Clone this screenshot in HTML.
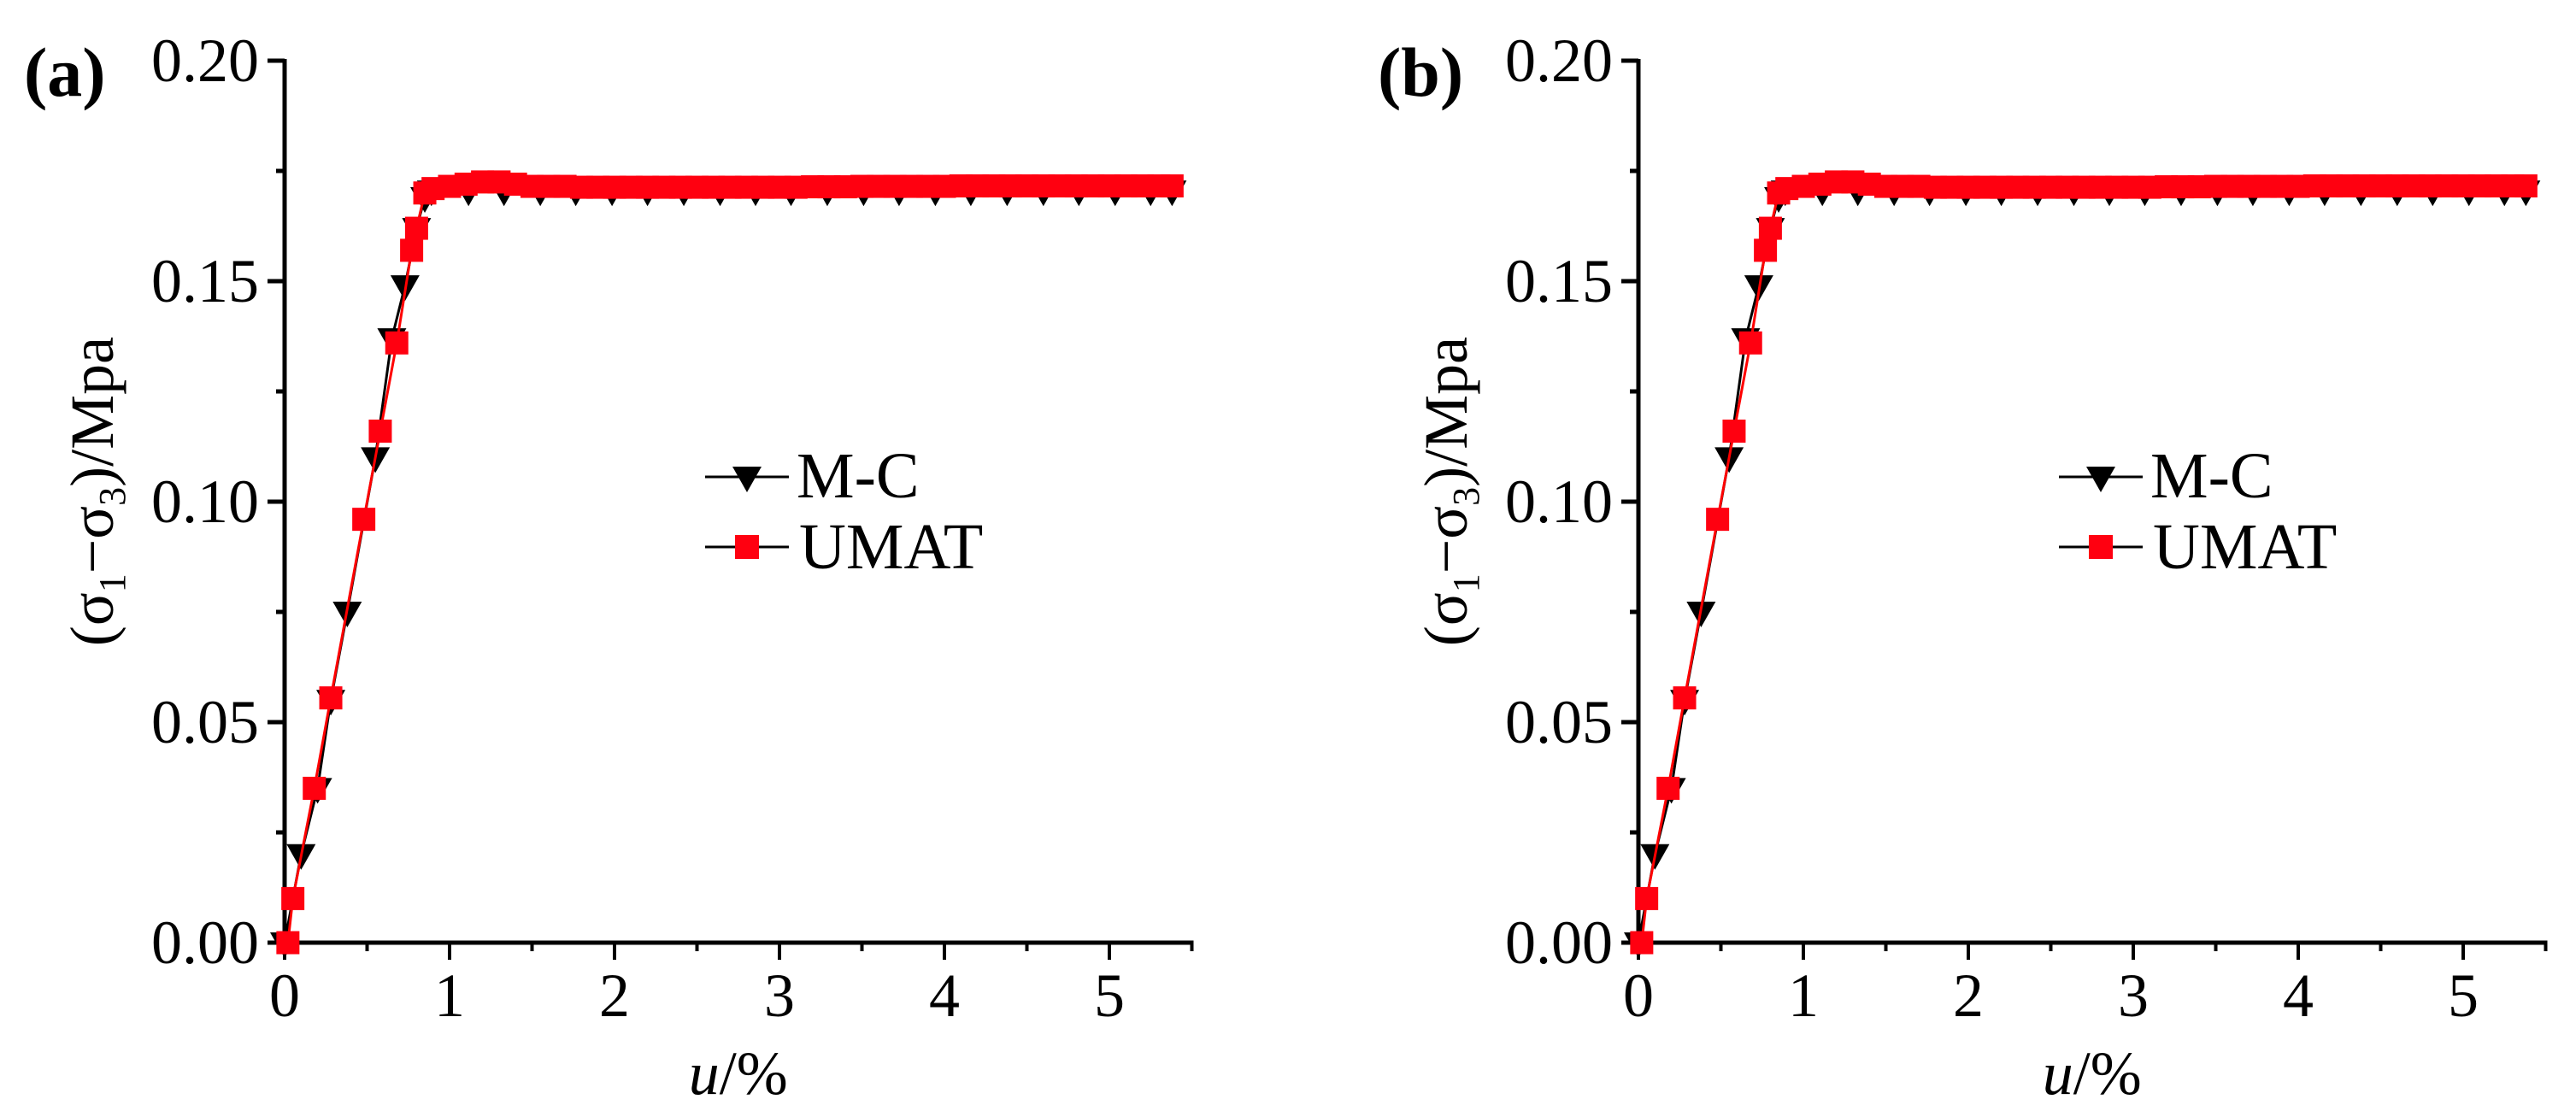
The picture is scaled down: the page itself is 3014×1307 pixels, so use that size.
<!DOCTYPE html>
<html><head><meta charset="utf-8"><style>
html,body{margin:0;padding:0;background:#fff;}
svg{display:block;font-family:"Liberation Serif",serif;}
</style></head><body>
<svg id="chart" width="3014" height="1307" viewBox="0 0 3014 1307" xmlns="http://www.w3.org/2000/svg"></svg>
<script>
const xTicks=[0,1,2,3,4,5];
const yTicks=[0.00,0.05,0.10,0.15,0.20];
const yTickLabels=["0.00","0.05","0.10","0.15","0.20"];
const panelLabels=["(a)","(b)"];
const mcX=[0.0,0.1,0.2,0.28,0.38,0.55,0.65,0.73,0.8,0.85,0.89,1.115,1.33,1.55,1.765,1.985,2.2,2.42,2.64,2.855,3.07,3.29,3.51,3.725,3.945,4.16,4.38,4.6,4.815,5.035,5.25,5.38];
const mcY=[0.0,0.02,0.035,0.055,0.075,0.11,0.137,0.149,0.162,0.169,0.1705,0.1705,0.1705,0.1705,0.1705,0.1705,0.1705,0.1705,0.1705,0.1705,0.1705,0.1705,0.1705,0.1705,0.1705,0.1705,0.1705,0.1705,0.1705,0.1705,0.1705,0.1705];
const umX=[0.02,0.05,0.18,0.28,0.48,0.58,0.68,0.77,0.8,0.85,0.9,1.0,1.1,1.2,1.3,1.4,1.5,1.6,1.7,1.8,1.9,2.0,2.1,2.2,2.3,2.4,2.5,2.6,2.7,2.8,2.9,3.0,3.1,3.2,3.3,3.4,3.5,3.6,3.7,3.8,3.9,4.0,4.1,4.2,4.3,4.4,4.5,4.6,4.7,4.8,4.9,5.0,5.1,5.2,5.3,5.38];
const umY=[0.0,0.01,0.035,0.0555,0.096,0.116,0.136,0.157,0.162,0.170,0.171,0.1715,0.172,0.1725,0.1725,0.172,0.1715,0.1715,0.1715,0.1713,0.1713,0.1713,0.1713,0.1713,0.1713,0.1713,0.1713,0.1713,0.1713,0.1713,0.1713,0.1713,0.1713,0.1714,0.1714,0.1714,0.1715,0.1715,0.1715,0.1715,0.1715,0.1715,0.1716,0.1716,0.1716,0.1716,0.1716,0.1716,0.1716,0.1716,0.1716,0.1716,0.1716,0.1716,0.1716,0.1716];

const svg=document.getElementById('chart');
const NS='http://www.w3.org/2000/svg';
function mk(tag,attrs,parent){const e=document.createElementNS(NS,tag);for(const k in attrs)e.setAttribute(k,attrs[k]);parent.appendChild(e);return e;}
const X0=333,Y0=1103,PXU=193,PYU=5160,XMAX=5.5;

function drawPanel(off,label){
  const g=mk('g',{transform:'translate('+off+',0)'},svg);
  
  
  const sx=v=>X0+v*PXU, sy=v=>Y0-v*PYU;
  const ya=mk('line',{x1:X0,y1:sy(0.2)-2,x2:X0,y2:Y0+2,stroke:'#000','stroke-width':5},g);
  
  
  const xa=mk('line',{x1:X0-2,y1:Y0,x2:sx(XMAX)+2,y2:Y0,stroke:'#000','stroke-width':5},g);
  
  
  for(let i=0;i<yTicks.length;i++){
    const y=sy(yTicks[i]);
    mk('line',{x1:X0-20,y1:y,x2:X0,y2:y,stroke:'#000','stroke-width':5},g);
    const t=mk('text',{x:X0-30,y:y+24,'font-size':72,'text-anchor':'end'},g);
    t.textContent=yTickLabels[i];
    
    
    if(i<yTicks.length-1){const ym=sy((yTicks[i]+yTicks[i+1])/2);mk('line',{x1:X0-10,y1:ym,x2:X0,y2:ym,stroke:'#000','stroke-width':5},g);}
  }
  for(let i=0;i<xTicks.length;i++){
    const x=sx(xTicks[i]);
    mk('line',{x1:x,y1:Y0,x2:x,y2:Y0+20,stroke:'#000','stroke-width':4},g);
    const t=mk('text',{x:x,y:Y0+86,'font-size':72,'text-anchor':'middle'},g);
    t.textContent=String(xTicks[i]);
    
    
    const xm=sx(xTicks[i]+0.5);
    if(xTicks[i]+0.5<=XMAX) mk('line',{x1:xm,y1:Y0,x2:xm,y2:Y0+10,stroke:'#000','stroke-width':4},g);
  }
  const xt=mk('text',{x:sx(2.75),y:1280,'font-size':72,'text-anchor':'middle'},g);
  xt.innerHTML='<tspan font-style="italic">u</tspan>/%';
  
  
  const yt=mk('text',{x:0,y:0,'font-size':72,'text-anchor':'middle',transform:'translate(132,575) rotate(-90)'},g);
  yt.innerHTML='(σ<tspan font-size="44" dy="14">1</tspan><tspan dy="-14">−σ</tspan><tspan font-size="44" dy="14">3</tspan><tspan dy="-14">)/Mpa</tspan>';
  
  
  const pl=mk('text',{x:28,y:112,'font-size':82,'font-weight':'bold'},g);
  pl.textContent=label;
  
  
  let d='';mcX.forEach((v,i)=>{d+=(i?'L':'M')+sx(v)+' '+sy(mcY[i]);});
  const ml=mk('path',{d:d,fill:'none',stroke:'#000','stroke-width':3},g);
  
  
  mcX.forEach((v,i)=>{
    const x=sx(v),y=sy(mcY[i]);
    const p=mk('polygon',{points:(x-17)+','+(y-12)+' '+(x+17)+','+(y-12)+' '+x+','+(y+18),fill:'#000'},g);
    
    
  });
  let d2='';umX.forEach((v,i)=>{d2+=(i?'L':'M')+sx(v)+' '+sy(umY[i]);});
  mk('path',{d:d2,fill:'none',stroke:'#f00','stroke-width':3},g);
  umX.forEach((v,i)=>{
    const x=sx(v),y=sy(umY[i]);
    const r=mk('rect',{x:x-13.5,y:y-13.5,width:27,height:27,fill:'#ff0010'},g);
    
    
  });
  const lg=mk('g',{},g);
  
  
  mk('line',{x1:825,y1:558,x2:923,y2:558,stroke:'#000','stroke-width':3},lg);
  mk('polygon',{points:'857,546 891,546 874,576',fill:'#000'},lg);
  const t1=mk('text',{x:932,y:582,'font-size':76},lg);t1.textContent='M-C';
  
  
  mk('line',{x1:825,y1:640,x2:923,y2:640,stroke:'#000','stroke-width':3},lg);
  mk('rect',{x:860,y:626,width:28,height:28,fill:'#ff0010'},lg);
  const t2=mk('text',{x:935,y:665,'font-size':76},lg);t2.textContent='UMAT';
  
  
}
drawPanel(0,panelLabels[0]);
drawPanel(1584,panelLabels[1]);
</script>
</body></html>
